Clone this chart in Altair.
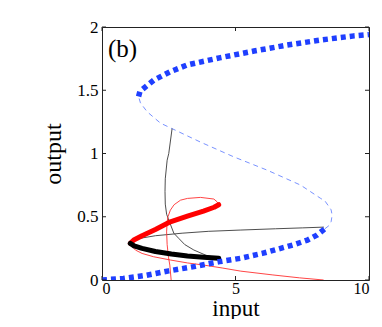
import altair as alt
import pandas as pd

# ---- data ----
blue_lower_x = [0.0, 0.8, 1.6, 2.5, 3.5, 4.4, 5.2, 6.0, 6.6, 7.2, 7.7, 8.05, 8.35]
blue_lower_y = [0.0, 0.012, 0.035, 0.072, 0.108, 0.145, 0.172, 0.21, 0.245, 0.28, 0.316, 0.355, 0.405]

blue_mid_x = [8.35, 8.5, 8.58, 8.62, 8.58, 8.5, 8.35, 8.19, 7.44, 6.19, 4.94, 3.69, 2.62, 2.19, 1.69, 1.44, 1.37]
blue_mid_y = [0.405, 0.43, 0.46, 0.513, 0.555, 0.58, 0.625, 0.645, 0.75, 0.868, 0.973, 1.09, 1.197, 1.24, 1.33, 1.40, 1.45]

blue_upper_x = [1.37, 1.42, 1.56, 1.94, 2.56, 3.19, 4.44, 5.69, 6.94, 8.19, 9.44, 10.0]
blue_upper_y = [1.45, 1.49, 1.515, 1.58, 1.647, 1.70, 1.758, 1.81, 1.857, 1.897, 1.93, 1.94]

red_thick_x = [1.06, 1.19, 1.5, 2.0, 2.56, 3.2, 3.8, 4.2, 4.37]
red_thick_y = [0.29, 0.316, 0.35, 0.40, 0.46, 0.505, 0.545, 0.575, 0.595]

black_thick_x = [1.06, 1.2, 1.5, 2.0, 2.6, 3.2, 3.8, 4.37]
black_thick_y = [0.29, 0.27, 0.25, 0.225, 0.205, 0.19, 0.18, 0.171]

red_loop_x = [4.37, 4.31, 4.19, 3.69, 3.2, 2.94, 2.7, 2.56, 2.47, 2.44, 2.42, 2.44, 2.49, 2.54, 2.59]
red_loop_y = [0.595, 0.618, 0.64, 0.653, 0.645, 0.631, 0.595, 0.552, 0.5, 0.46, 0.38, 0.28, 0.18, 0.118, 0.0]

red_lower_x = [1.06, 1.15, 1.25, 1.5, 1.93, 2.56, 3.2, 3.81, 4.5, 5.2, 6.4, 7.4, 8.3]
red_lower_y = [0.29, 0.26, 0.237, 0.21, 0.184, 0.158, 0.135, 0.118, 0.095, 0.07, 0.04, 0.017, 0.0]

black_vert_x = [2.625, 2.5, 2.44, 2.37, 2.36, 2.37, 2.42, 2.5, 2.69, 2.87, 3.1, 3.44, 3.9, 4.37]
black_vert_y = [1.197, 1.0, 0.947, 0.80, 0.70, 0.60, 0.52, 0.474, 0.37, 0.33, 0.28, 0.237, 0.195, 0.171]

black_horiz_x = [1.06, 1.2, 1.44, 2.0, 3.0, 4.0, 5.2, 6.5, 7.5, 8.31]
black_horiz_y = [0.29, 0.315, 0.33, 0.35, 0.37, 0.385, 0.395, 0.405, 0.412, 0.418]

x_ticks = [0, 5, 10]
y_ticks = [0, 0.5, 1, 1.5, 2]
panel_label = "(b)"
x_title = "input"
y_title = "output"

W, H = 267, 253
FONT = "Liberation Serif"


def df(xv, yv):
    return pd.DataFrame({"x": xv, "y": yv, "i": list(range(len(xv)))})


xs = alt.Scale(domain=[0, 10], nice=False)
ys = alt.Scale(domain=[0, 2], nice=False)


def line(xv, yv, color, width, dash=None, cap="butt"):
    kw = dict(color=color, strokeWidth=width, clip=True, strokeCap=cap, strokeJoin="round")
    if dash:
        kw["strokeDash"] = dash
    return alt.Chart(df(xv, yv)).mark_line(**kw).encode(
        x=alt.X("x:Q", scale=xs),
        y=alt.Y("y:Q", scale=ys),
        order=alt.Order("i:Q"),
    )


base = alt.Chart(df(blue_mid_x, blue_mid_y)).mark_line(
    color="#6a86ff", strokeWidth=0.9, strokeDash=[5, 4], clip=True
).encode(
    x=alt.X("x:Q", scale=xs,
            axis=alt.Axis(values=x_ticks, format="d", title=x_title, ticks=False, domain=False,
                          grid=False, labelPadding=0, labelFontSize=16,
                          titleY=17, titleBaseline="top", titleFontSize=23)),
    y=alt.Y("y:Q", scale=ys,
            axis=alt.Axis(values=y_ticks, format="~r", title=y_title, ticks=False, domain=False,
                          grid=False, labelPadding=4, titleX=-37)),
    order=alt.Order("i:Q"),
)

layers = [
    base,
    line(black_vert_x, black_vert_y, "#3a3a3a", 0.9),
    line(black_horiz_x, black_horiz_y, "#3a3a3a", 0.9),
    line(red_loop_x, red_loop_y, "#ff3030", 0.9),
    line(red_lower_x, red_lower_y, "#ff3030", 0.9),
    line(red_thick_x, red_thick_y, "#ff0000", 5, cap="round"),
    line(black_thick_x, black_thick_y, "#000000", 5, cap="round"),
    line(blue_lower_x, blue_lower_y, "#1f3fff", 5.5, dash=[5, 4]),
    line(blue_upper_x, blue_upper_y, "#1f3fff", 5.5, dash=[5, 4]),
]

xt = pd.DataFrame({"v": x_ticks})
yt = pd.DataFrame({"v": y_ticks})
tick_len = 4
layers += [
    alt.Chart(xt).mark_rule(color="#222", strokeWidth=1).encode(
        x=alt.X("v:Q", scale=xs), y=alt.value(H), y2=alt.value(H - tick_len)),
    alt.Chart(xt).mark_rule(color="#222", strokeWidth=1).encode(
        x=alt.X("v:Q", scale=xs), y=alt.value(0), y2=alt.value(tick_len)),
    alt.Chart(yt).mark_rule(color="#222", strokeWidth=1).encode(
        y=alt.Y("v:Q", scale=ys), x=alt.value(0), x2=alt.value(tick_len)),
    alt.Chart(yt).mark_rule(color="#222", strokeWidth=1).encode(
        y=alt.Y("v:Q", scale=ys), x=alt.value(W), x2=alt.value(W - tick_len)),
    alt.Chart(pd.DataFrame({"t": [panel_label]})).mark_text(
        font=FONT, fontSize=25, align="left", baseline="middle", color="black"
    ).encode(text="t:N", x=alt.value(6), y=alt.value(22)),
]

chart = alt.layer(*layers).properties(
    width=W, height=H,
    autosize=alt.AutoSizeParams(type="none"),
    padding={"left": 94, "top": 19, "right": 5, "bottom": 39},
).configure_view(
    stroke="#222", strokeWidth=1
).configure_axis(
    labelFont=FONT, labelFontSize=17, labelColor="black",
    titleFont=FONT, titleFontSize=24, titleColor="black", titleFontWeight="normal",
)

chart.save("out.html", embed_options={"renderer": "svg", "actions": False})
